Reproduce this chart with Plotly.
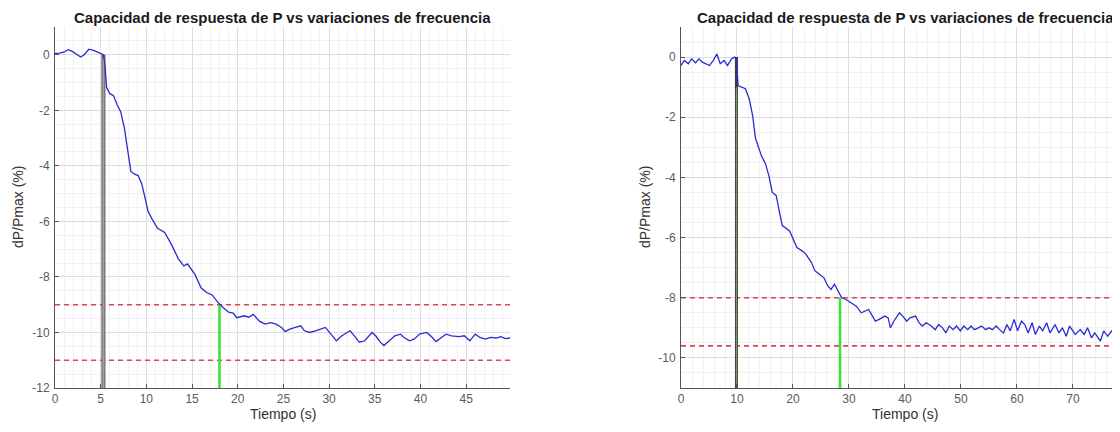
import plotly.graph_objects as go

# ---------------- data: left panel ----------------
left_t = [0, 0.5, 1.0, 1.45, 1.9, 2.4, 2.8, 3.2, 3.7, 4.3, 4.8, 5.1, 5.3, 5.45, 5.65, 6.0, 6.4, 6.8, 7.2,
          7.6, 7.9, 8.3, 8.7, 9.1, 9.5, 9.85, 10.2, 10.6, 11.2, 12.0, 12.7, 13.5, 14.1, 14.5, 15.3, 16.0,
          16.6, 17.2, 17.9, 18.4, 19.0, 19.5, 19.9, 20.7, 21.2, 21.7, 22.4, 23.0, 23.6, 24.2, 24.8, 25.2,
          25.7, 26.3, 26.9, 27.3, 27.9, 28.5, 29.0, 29.6, 30.2, 30.8, 31.4, 32.0, 32.3, 32.9, 33.3, 33.9,
          34.7, 35.1, 35.6, 36.0, 36.6, 37.2, 37.8, 38.2, 38.8, 39.3, 39.9, 40.7, 41.3, 41.7, 42.3, 42.8,
          43.4, 44.2, 44.8, 45.4, 46.0, 46.5, 47.1, 47.7, 48.3, 48.8, 49.3, 49.8]
left_p = [0.05, 0.06, 0.1, 0.18, 0.12, 0.0, -0.08, 0.0, 0.2, 0.15, 0.08, 0.05, 0.0, -0.3, -1.18, -1.4, -1.47,
          -1.8, -2.06, -2.65, -3.35, -4.2, -4.3, -4.35, -4.65, -5.1, -5.65, -5.9, -6.24, -6.4, -6.8, -7.35,
          -7.6, -7.53, -7.9, -8.4, -8.56, -8.65, -8.94, -9.1, -9.27, -9.3, -9.47, -9.4, -9.45, -9.35, -9.6,
          -9.7, -9.65, -9.7, -9.82, -9.97, -9.88, -9.82, -9.76, -9.94, -10.0, -9.94, -9.88, -9.82, -10.06,
          -10.3, -10.12, -10.0, -9.94, -10.18, -10.35, -10.3, -10.0, -10.12, -10.35, -10.47, -10.3, -10.12,
          -10.06, -10.18, -10.3, -10.24, -10.06, -10.0, -10.18, -10.33, -10.18, -10.06, -10.12, -10.15,
          -10.12, -10.3, -10.06, -10.18, -10.24, -10.18, -10.2, -10.15, -10.22, -10.2]
left_event_t = 5.3        # start of the frequency event
left_event_p = 0.0
left_settle_t = 18.0      # time the response enters the band
left_band = [-9.0, -11.0]
left_xrange = [0, 49.8]
left_yrange = [-12, 1]
left_xticks = [0, 5, 10, 15, 20, 25, 30, 35, 40, 45]
left_yticks = [0, -2, -4, -6, -8, -10, -12]

# ---------------- data: right panel ----------------
right_t = [0, 0.6, 1.3, 1.9, 2.6, 3.2, 3.8, 4.5, 5.1, 5.8, 6.4, 7.0, 7.7, 8.3, 9.0, 9.6, 9.9, 10.2, 10.9,
           11.5, 12.2, 12.8, 13.3, 13.8, 14.4, 15.1, 15.7, 16.3, 17.0, 17.6, 18.1, 19.4, 20.0, 20.7, 21.7,
           22.3, 23.3, 23.9, 24.6, 25.5, 26.2, 26.8, 27.4, 28.1, 28.7, 29.4, 30.3, 31.3, 32.2, 32.9, 33.5,
           34.2, 34.7, 35.4, 36.4, 37.0, 37.4, 38.0, 39.0, 39.6, 40.3, 40.9, 41.9, 42.5, 43.1, 43.8, 44.7,
           45.4, 46.0, 46.7, 47.3, 47.9, 48.6, 49.2, 49.9, 50.5, 51.2, 51.8, 52.4, 53.1, 53.7, 54.4, 55.0,
           55.6, 56.3, 56.9, 57.6, 58.2, 58.8, 59.5, 60.1, 60.8, 61.4, 62.0, 62.7, 63.3, 64.0, 64.6, 65.3,
           65.9, 66.8, 67.5, 68.1, 68.8, 69.4, 70.4, 71.3, 72.0, 72.6, 73.3, 73.9, 74.9, 75.5, 76.2, 77.1,
           78.1, 79.0, 80.0]
right_p = [-0.28, -0.11, -0.22, -0.06, -0.19, -0.06, -0.17, -0.22, -0.28, -0.1, 0.1, -0.22, -0.11, -0.28,
           -0.06, 0.0, -0.05, -0.95, -1.0, -1.05, -1.4, -1.95, -2.7, -2.95, -3.3, -3.55, -3.95, -4.5, -4.6,
           -5.17, -5.6, -5.78, -6.05, -6.33, -6.45, -6.55, -6.83, -7.1, -7.2, -7.33, -7.6, -7.72, -7.55,
           -7.78, -8.0, -8.05, -8.17, -8.28, -8.5, -8.45, -8.39, -8.61, -8.78, -8.72, -8.61, -8.67, -9.0,
           -8.78, -8.5, -8.61, -8.78, -8.67, -8.61, -8.83, -8.94, -8.83, -8.94, -9.06, -8.89, -9.0, -9.17,
           -8.94, -9.06, -8.94, -9.1, -8.94, -9.06, -8.94, -9.06, -9.0, -8.94, -9.06, -9.0, -9.06, -8.94,
           -9.06, -9.17, -8.89, -9.1, -8.72, -9.1, -8.78, -8.89, -9.17, -8.83, -9.22, -8.94, -9.1, -8.83,
           -9.17, -8.89, -9.17, -9.0, -9.28, -8.94, -9.22, -9.06, -9.22, -9.0, -9.33, -9.17, -9.44, -9.1,
           -9.28, -9.06, -9.1, -9.0, -9.05]
right_event_t = 9.9
right_event_p = 0.0
right_settle_t = 28.4
right_band = [-8.0, -9.6]
right_xrange = [0, 78.4]      # panel is cut at the right edge of the picture
right_yrange = [-11, 1]
right_xticks = [0, 10, 20, 30, 40, 50, 60, 70]
right_yticks = [0, -2, -4, -6, -8, -10]

title_text = "Capacidad de respuesta de P vs variaciones de frecuencia"
xlabel = "Tiempo (s)"
ylabel = "dP/Pmax (%)"

# ---------------- figure ----------------
W, H = 1120, 432
OFF = 8   # page offset of the plot div in the browser
FONT = "Liberation Sans, Arial, sans-serif"
BLUE = "#2a2ad0"
RED = "#dc4650"
GREEN = "#3ee03e"

fig = go.Figure()


def add_panel(xa, ya, t, p, ev_t, ev_p, st_t, band, yr, xr, outer, inner):
    xref = "x" if xa == 1 else f"x{xa}"
    yref = "y" if ya == 1 else f"y{ya}"
    for b in band:
        fig.add_trace(go.Scatter(x=[xr[0], xr[1] + 5], y=[b, b], mode="lines",
                                 line=dict(color=RED, width=1.6, dash="5px,4px"),
                                 xaxis=xref, yaxis=yref, showlegend=False, hoverinfo="skip"))
    fig.add_trace(go.Scatter(x=[ev_t, ev_t], y=[yr[0], ev_p], mode="lines",
                             line=dict(color=outer[0], width=outer[1]),
                             xaxis=xref, yaxis=yref, showlegend=False, hoverinfo="skip"))
    fig.add_trace(go.Scatter(x=[ev_t, ev_t], y=[yr[0], ev_p - inner[0]], mode="lines",
                             line=dict(color=inner[1], width=inner[2]),
                             xaxis=xref, yaxis=yref, showlegend=False, hoverinfo="skip"))
    fig.add_trace(go.Scatter(x=[st_t, st_t], y=[yr[0], band[0]], mode="lines",
                             line=dict(color=GREEN, width=2.6),
                             xaxis=xref, yaxis=yref, showlegend=False, hoverinfo="skip"))
    fig.add_trace(go.Scatter(x=t, y=p, mode="lines", line=dict(color=BLUE, width=1.3),
                             xaxis=xref, yaxis=yref, showlegend=False, hoverinfo="skip"))


add_panel(1, 1, left_t, left_p, left_event_t, left_event_p, left_settle_t, left_band,
          left_yrange, left_xrange, ("#5e5e5e", 4), (0.1, "#a2a2a2", 2))
add_panel(2, 2, right_t, right_p, right_event_t, right_event_p, right_settle_t, right_band,
          right_yrange, right_xrange, ("#3c3c3c", 3), (1.0, "#7a9a68", 1.2))


def px_x(v):
    return (v - OFF) / W


def px_y(v):
    return 1 - (v - OFF) / H


ydom = [px_y(388), px_y(27)]
axis_common = dict(showline=True, linecolor="#555555", linewidth=1, ticks="inside", ticklen=4,
                   tickcolor="#555555", gridcolor="#dddddd", gridwidth=1, zeroline=False,
                   tickfont=dict(family=FONT, size=12, color="#5a5a5a"), mirror=False,
                   tickmode="array")


def ticktext(vals):
    return [str(v) for v in vals]


fig.update_layout(
    width=W, height=H, margin=dict(l=0, r=0, t=0, b=0, autoexpand=False),
    paper_bgcolor="white", plot_bgcolor="white",
    xaxis=dict(domain=[px_x(55), px_x(510)], range=left_xrange, anchor="y",
               tickvals=left_xticks, ticktext=ticktext(left_xticks),
               minor=dict(dtick=1, tick0=0, showgrid=True, gridcolor="#f1f1f1", ticks=""),
               **axis_common),
    yaxis=dict(domain=ydom, range=left_yrange, anchor="x",
               tickvals=left_yticks, ticktext=ticktext(left_yticks), ticklabelstandoff=2,
               minor=dict(dtick=0.5, tick0=0, showgrid=True, gridcolor="#f1f1f1", ticks=""),
               **axis_common),
    xaxis2=dict(domain=[px_x(681), px_x(1120)], range=right_xrange, anchor="y2",
                tickvals=right_xticks, ticktext=ticktext(right_xticks),
                minor=dict(dtick=2, tick0=0, showgrid=True, gridcolor="#f1f1f1", ticks=""),
                **axis_common),
    yaxis2=dict(domain=ydom, range=right_yrange, anchor="x2",
                tickvals=right_yticks, ticktext=ticktext(right_yticks), ticklabelstandoff=2,
                minor=dict(dtick=0.5, tick0=0, showgrid=True, gridcolor="#f1f1f1", ticks=""),
                **axis_common),
)

ann = []
for cx in (282.5, 905):
    ann.append(dict(x=px_x(cx), y=px_y(18), xref="paper", yref="paper", text="<b>" + title_text + "</b>",
                    showarrow=False, font=dict(family=FONT, size=15, color="#1a1a1a"),
                    xanchor="center", yanchor="middle"))
    ann.append(dict(x=px_x(cx), y=px_y(414), xref="paper", yref="paper", text=xlabel,
                    showarrow=False, font=dict(family=FONT, size=14, color="#333333"),
                    xanchor="center", yanchor="middle"))
for cx in (18, 645):
    ann.append(dict(x=px_x(cx), y=px_y(207), xref="paper", yref="paper", text=ylabel, textangle=-90,
                    showarrow=False, font=dict(family=FONT, size=14, color="#333333"),
                    xanchor="center", yanchor="middle"))
fig.update_layout(annotations=ann)

fig.write_html("out.html")
